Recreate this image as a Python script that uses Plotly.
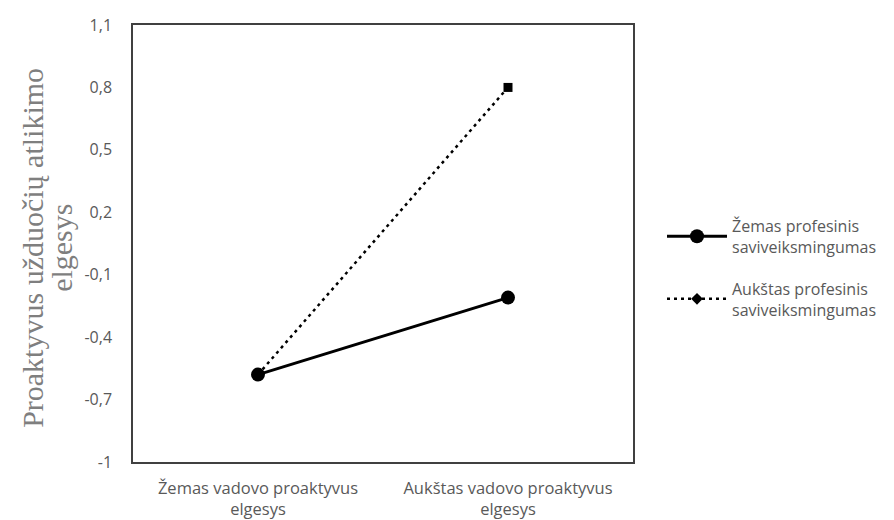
import plotly.graph_objects as go

categories = ["Žemas vadovo proaktyvus<br>elgesys", "Aukštas vadovo proaktyvus<br>elgesys"]
low_self_efficacy = [-0.58, -0.21]
high_self_efficacy = [-0.58, 0.80]
series_names = ["Žemas profesinis<br>saviveiksmingumas", "Aukštas profesinis<br>saviveiksmingumas"]
y_tickvals = [-1, -0.7, -0.4, -0.1, 0.2, 0.5, 0.8, 1.1]
y_ticktext = ["-1", "-0,7", "-0,4", "-0,1", "0,2", "0,5", "0,8", "1,1"]
y_title_lines = ["Proaktyvus užduočių atlikimo", "elgesys"]

fig = go.Figure()
fig.add_trace(go.Scatter(
    x=categories, y=low_self_efficacy, name=series_names[0],
    mode="lines+markers", legendgroup="a",
    line=dict(color="black", width=3),
    marker=dict(symbol="circle", size=14, color="black"),
))
fig.add_trace(go.Scatter(
    x=categories, y=high_self_efficacy, name=series_names[1],
    mode="lines+markers", legendgroup="b",
    line=dict(color="black", width=2.5, dash="3px,4px"),
    marker=dict(symbol=["diamond", "square"], size=9, color="black"),
))

title_font = dict(family="Liberation Serif, Times New Roman, serif", size=30, color="#7f7f7f")
fig.update_layout(
    width=894, height=520,
    paper_bgcolor="white", plot_bgcolor="white",
    margin=dict(l=125, r=269, t=17, b=66, autoexpand=False),
    font=dict(family="Open Sans, sans-serif", color="#595959", size=16),
    legend=dict(
        x=1.058, y=0.444, xanchor="left", yanchor="middle",
        font=dict(size=16, color="#595959"),
        itemwidth=60, tracegroupgap=18, traceorder="grouped",
        bgcolor="rgba(0,0,0,0)",
    ),
    annotations=[
        dict(text=y_title_lines[0], textangle=-90, xref="paper", yref="paper",
             x=-0.2, y=0.49, xanchor="center", yanchor="middle",
             showarrow=False, font=title_font),
        dict(text=y_title_lines[1], textangle=-90, xref="paper", yref="paper",
             x=-0.142, y=0.49, xanchor="center", yanchor="middle",
             showarrow=False, font=title_font),
    ],
)
fig.update_xaxes(
    type="category", showline=True, linecolor="#404040", linewidth=1.5, mirror=True,
    showgrid=False, ticks="", ticklabelstandoff=10, automargin=False,
    tickfont=dict(size=16.5, color="#595959"),
    range=[-0.5, 1.5],
)
fig.update_yaxes(
    range=[-1, 1.1], tickvals=y_tickvals, ticktext=y_ticktext,
    showline=True, linecolor="#404040", linewidth=1.5, mirror=True,
    showgrid=False, zeroline=False, ticks="", ticklabelstandoff=16, automargin=False,
    tickfont=dict(size=16, color="#595959"),
)

fig.write_html("out.html")
